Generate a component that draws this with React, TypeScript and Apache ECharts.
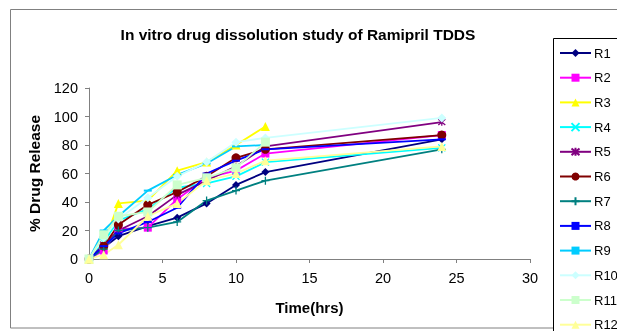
import React, { useEffect, useRef } from "react";
import * as echarts from "echarts";

const times = [0, 1, 2, 4, 6, 8, 10, 12, 24];
const seriesNames = ["R1", "R2", "R3", "R4", "R5", "R6", "R7", "R8", "R9", "R10", "R11", "R12"];
const R1 = [0, 8, 16, 23, 29, 39, 52, 61, 84];
const R2 = [0, 6, 21, 22, 42, 57, 62, 74, 87];
const R3 = [0, 10, 39, 41, 62, 68, 80, 93];
const R4 = [0, 12, 27, 35, 50, 53, 58, 68, 78];
const R5 = [0, 10, 20, 30, 45, 55, 65, 79, 96];
const R6 = [0, 9, 24, 38, 47, 58, 71, 77, 87];
const R7 = [0, 7, 20, 22, 26, 41, 48, 55, 77];
const R8 = [0, 9, 18, 26, 36, 60, 69, 77, 84];
const R9 = [0, 20, 30, 48, 59, 67, 79, 80];
const R10 = [0, 15, 28, 43, 58, 68, 82, 85, 99];
const R11 = [0, 17, 30, 33, 52, 57, 64, 82];
const R12 = [0, 3, 10, 30, 39, 55, 60, 69, 79];
const allValues = [R1, R2, R3, R4, R5, R6, R7, R8, R9, R10, R11, R12];
const xTicks = [0, 5, 10, 15, 20, 25, 30];
const yTicks = [0, 20, 40, 60, 80, 100, 120];

const colors = ["#000080", "#FF00FF", "#FFFF00", "#00FFFF", "#800080", "#800000", "#008080", "#0000FF", "#00CCFF", "#CCFFFF", "#CCFFCC", "#FFFF99"];

const xPath = "path://M0,0L10,10M10,0L0,10";
const starPath = "path://M0,0L10,10M10,0L0,10M5,-1L5,11";
const plusPath = "path://M5,0L5,10M0,5L10,5";

const symbols: any[] = ["diamond", "rect", "triangle", xPath, starPath, "circle", plusPath, "rect", "rect", "diamond", "rect", "triangle"];
const sizes: any[] = [8, 8, 9, 7, 7, 9, 8, [8, 2], [8, 2], 9, 9, 9];
const stroked = [false, false, false, true, true, false, true, false, false, false, false, false];

export default function App() {
  const ref = useRef<HTMLDivElement>(null);
  useEffect(() => {
    if (!ref.current) return;
    const chart = echarts.init(ref.current, undefined, { renderer: "svg" });
    const font = "Arial, 'Liberation Sans', sans-serif";
    const series = allValues.map((vals, i) => ({
      name: seriesNames[i],
      type: "line",
      data: vals.map((v, j) => [times[j], v]),
      symbol: symbols[i],
      symbolSize: sizes[i],
      showSymbol: true,
      lineStyle: { color: colors[i], width: 1.8 },
      itemStyle: stroked[i]
        ? { color: colors[i], borderColor: colors[i], borderWidth: 1.3 }
        : { color: colors[i], borderWidth: 0 },
      emphasis: { disabled: true },
    }));
    const legendCommon = {
      orient: "vertical",
      left: 559,
      padding: 0,
      itemWidth: 31,
      itemHeight: 10,
      itemGap: 10.7,
      selectedMode: false,
      textStyle: { fontSize: 13, color: "#000", lineHeight: 14, fontFamily: font, padding: [0, 0, 0, -2] },
    };
    chart.setOption({
      animation: false,
      textStyle: { fontFamily: font },
      title: {
        text: "In vitro drug dissolution study of Ramipril TDDS",
        left: 293,
        top: 20,
        textAlign: "center",
        textStyle: { fontSize: 15.5, fontWeight: "bold", color: "#000", fontFamily: font, lineHeight: 18 },
      },
      grid: { left: 89, top: 88, width: 441, height: 171, containLabel: false },
      xAxis: {
        type: "value",
        min: xTicks[0],
        max: xTicks[xTicks.length - 1],
        interval: 5,
        name: "Time(hrs)",
        nameLocation: "middle",
        nameGap: 41,
        nameTextStyle: { fontSize: 15, fontWeight: "bold", color: "#000", fontFamily: font },
        axisLine: { lineStyle: { color: "#808080", width: 1 } },
        axisTick: { show: true, length: 4, inside: false, lineStyle: { color: "#808080" } },
        axisLabel: { color: "#000", fontSize: 14.5, margin: 11, fontFamily: font },
        splitLine: { show: false },
      },
      yAxis: {
        type: "value",
        min: yTicks[0],
        max: yTicks[yTicks.length - 1],
        interval: 20,
        name: "% Drug Release",
        nameLocation: "middle",
        nameGap: 41,
        nameTextStyle: { fontSize: 15.5, fontWeight: "bold", color: "#000", fontFamily: font },
        axisLine: { show: true, lineStyle: { color: "#808080", width: 1 } },
        axisTick: { show: true, length: 4, inside: false, lineStyle: { color: "#808080" } },
        axisLabel: { color: "#000", fontSize: 14.5, margin: 11, fontFamily: font },
        splitLine: { show: false },
      },
      legend: [
        { ...legendCommon, top: 46, data: seriesNames.slice(0, 11) },
        { ...legendCommon, top: 46 + 11 * 24.7, data: seriesNames.slice(11) },
      ],
      graphic: [
        {
          type: "rect",
          shape: { x: 10.5, y: 9.5, width: 700, height: 318.5 },
          style: { fill: "none", stroke: "#808080", lineWidth: 1 },
          silent: true,
          z: -1,
        },
        {
          type: "rect",
          shape: { x: 553.5, y: 38.5, width: 100, height: 330 },
          style: { fill: "#fff", stroke: "#000", lineWidth: 1 },
          silent: true,
          z: -1,
        },
      ],
      series,
    });
    return () => chart.dispose();
  }, []);
  return <div ref={ref} style={{ position: "fixed", left: 0, top: 0, width: 617, height: 331 }} />;
}
